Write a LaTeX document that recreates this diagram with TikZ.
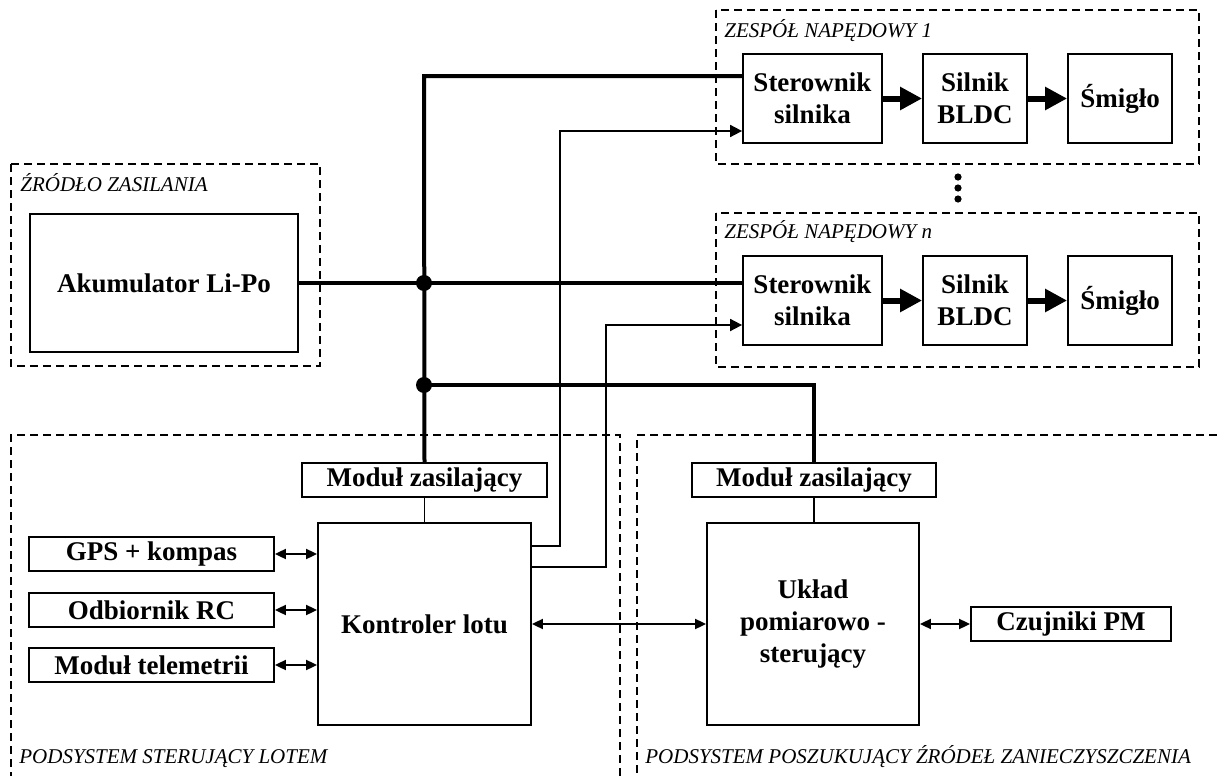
\documentclass[tikz,border=0pt]{standalone}
\usepackage{fontspec}
\setmainfont{Liberation Serif}
\usetikzlibrary{arrows.meta}
\begin{document}
\begin{tikzpicture}[x=0.5pt,y=-0.5pt,
 blk/.style={draw,line width=0.9pt,inner sep=0pt,align=center,font=\fontsize{13.5}{16}\selectfont\bfseries},
 grp/.style={draw,dash pattern=on 4pt off 2.5pt,line width=0.7pt},
 glabel/.style={anchor=base west,inner sep=0pt,font=\fontsize{10.5}{12}\selectfont\itshape},
 pwr/.style={line width=2pt},
 thin/.style={line width=0.9pt},
 sig/.style={line width=0.9pt,-{Triangle[length=6pt,width=6pt]}},
 bid/.style={line width=0.9pt,{Triangle[length=5.5pt,width=5pt]}-{Triangle[length=5.5pt,width=5pt]}},
 drv/.style={line width=3pt,-{Triangle[length=11pt,width=11pt]}},
 junc/.style={circle,fill,inner sep=0pt,minimum size=8pt}
]
\useasboundingbox (0,0) rectangle (1217,776);

% group frames
\draw[grp] (716,10) rectangle (1199,164);
\draw[grp] (716,213) rectangle (1199,367);
\draw[grp] (11,164) rectangle (320,366);
\draw[grp] (620,776) -- (620,435) -- (11,435) -- (11,776);
\draw[grp] (1217,435) -- (637,435) -- (637,776);

% group labels
\node[glabel] (lz1) at (724,37) {ZESPÓŁ NAPĘDOWY 1};
\node[glabel] (lzn) at (724,238) {ZESPÓŁ NAPĘDOWY \textit{n}};
\node[glabel] (lzr) at (20,191) {ŹRÓDŁO ZASILANIA};
\node[glabel] (lps) at (19,763) {PODSYSTEM STERUJĄCY LOTEM};
\node[glabel] (lpz) at (645,763) {PODSYSTEM POSZUKUJĄCY ŹRÓDEŁ ZANIECZYSZCZENIA};

% blocks
\node[blk,minimum width=134pt,minimum height=69pt] (akum) at (164,283) {Akumulator Li-Po};

\node[blk,minimum width=69.5pt,minimum height=44.5pt] (st1) at (812.5,98.5) {Sterownik\\silnika};
\node[blk,minimum width=52pt,minimum height=44.5pt] (bl1) at (975,98.5) {Silnik\\BLDC};
\node[blk,minimum width=52pt,minimum height=44.5pt] (sm1) at (1120,98.5) {Śmigło};

\node[blk,minimum width=69.5pt,minimum height=44.5pt] (stn) at (812.5,300.5) {Sterownik\\silnika};
\node[blk,minimum width=52pt,minimum height=44.5pt] (bln) at (975,300.5) {Silnik\\BLDC};
\node[blk,minimum width=52pt,minimum height=44.5pt] (smn) at (1120,300.5) {Śmigło};

\node[blk,minimum width=122.5pt,minimum height=17pt] (mz1) at (424.5,480) {Moduł zasilający};
\node[blk,minimum width=106.5pt,minimum height=101pt] (kl) at (424.5,624) {Kontroler lotu};
\node[blk,minimum width=122.5pt,minimum height=17pt] (gps) at (151.5,554) {GPS + kompas};
\node[blk,minimum width=122.5pt,minimum height=17pt] (rc) at (151.5,610) {Odbiornik RC};
\node[blk,minimum width=122.5pt,minimum height=17pt] (tel) at (151.5,665) {Moduł telemetrii};

\node[blk,minimum width=122pt,minimum height=17pt] (mz2) at (814,480) {Moduł zasilający};
\node[blk,minimum width=106pt,minimum height=101pt] (uk) at (813,624) {Układ\\pomiarowo -\\sterujący};
\node[blk,minimum width=100pt,minimum height=17pt] (pm) at (1071,624) {Czujniki PM};

% ellipsis between drive groups
\fill (958,177) circle[radius=1.8pt];
\fill (958,188) circle[radius=1.8pt];
\fill (958,199) circle[radius=1.8pt];

% coordinates
\coordinate (bustop) at (424,76);
\coordinate (j1) at (424,283);
\coordinate (j2) at (424,385);
\coordinate (o1) at (531,546);
\coordinate (c1) at (560,131);
\coordinate (o2) at (531,567);
\coordinate (c2) at (606,325);

% control signals
\draw[sig] (o1) -| (c1) -- (c1 -| st1.west);
\draw[sig] (o2) -| (c2) -- (c2 -| stn.west);

% power lines
\draw[pwr] (mz1.north) -- (bustop) -- (bustop -| st1.west);
\draw[pwr] (akum.east) -- (akum.east -| stn.west);
\draw[pwr] (j2) -| (mz2.north);
\node[junc] (dj1) at (j1) {};
\node[junc] (dj2) at (j2) {};

\draw[thin] (mz1.south) -- (kl.north);
\draw[thin] (mz2.south) -- (mz2.south |- uk.north);

% drive chain
\draw[drv] (st1.east) -- (bl1.west);
\draw[drv] (bl1.east) -- (sm1.west);
\draw[drv] (stn.east) -- (bln.west);
\draw[drv] (bln.east) -- (smn.west);

% bidirectional links
\draw[bid] (gps.east) -- (gps.east -| kl.west);
\draw[bid] (rc.east) -- (rc.east -| kl.west);
\draw[bid] (tel.east) -- (tel.east -| kl.west);
\draw[bid] (kl.east) -- (uk.west);
\draw[bid] (uk.east) -- (pm.west);
\end{tikzpicture}
\end{document}
